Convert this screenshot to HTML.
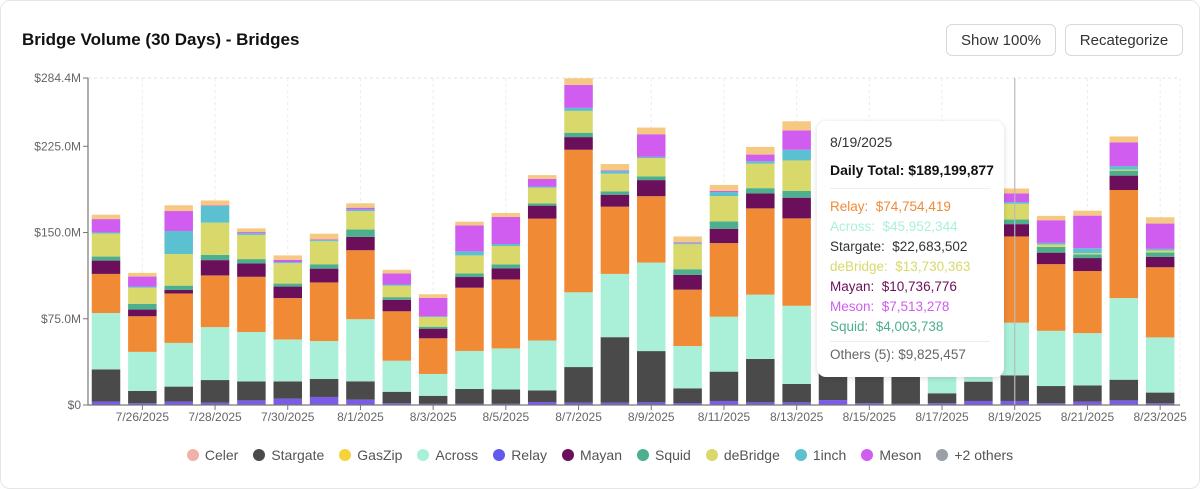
<!DOCTYPE html>
<html><head><meta charset="utf-8"><style>
body{margin:0;width:1200px;height:489px;background:#fff;font-family:"Liberation Sans",sans-serif;overflow:hidden}
.card{position:absolute;left:0;top:0;width:1198px;height:487px;border:1px solid #e6e6e6;border-radius:10px}
h1{position:absolute;left:22px;top:30px;margin:0;font-size:17px;font-weight:bold;color:#111}
.btn{position:absolute;top:24px;height:32px;border:1px solid #d9d9d9;border-radius:6px;background:#fff;font-size:15px;color:#333;display:flex;align-items:center;justify-content:center;box-sizing:border-box}
.legend{position:absolute;left:0;width:1200px;top:447px;display:flex;justify-content:center;gap:15px;font-size:14px;color:#555}
.li{display:flex;align-items:center;gap:6px}
.dot{width:12px;height:12px;border-radius:50%}
.tt{position:absolute;left:817px;top:121px;width:187px;height:256px;background:#fff;border-radius:9px;box-shadow:0 1px 6px rgba(0,0,0,0.15);font-size:13.5px;box-sizing:border-box;padding:0 12px}
.tt div{position:absolute;left:13px;white-space:nowrap}
.sep{height:1px;background:#eee;width:160px}
</style></head><body>
<div class="card"></div>
<h1>Bridge Volume (30 Days) - Bridges</h1>
<div class="btn" style="left:946px;width:110px">Show 100%</div>
<div class="btn" style="left:1065px;width:118px">Recategorize</div>
<svg id="chart" width="1200" height="489" style="position:absolute;left:0;top:0"></svg>
<div class="tt">
<div style="top:13px;color:#333;font-size:14px">8/19/2025</div>
<div style="top:41px;font-weight:bold;color:#111;font-size:14px">Daily Total: $189,199,877</div>
<div class="sep" style="top:67px"></div>
<div style="top:78px;color:#f08a35">Relay:&nbsp; $74,754,419</div>
<div style="top:98px;color:#aaf0d8">Across:&nbsp; $45,952,344</div>
<div style="top:118px;color:#333">Stargate:&nbsp; $22,683,502</div>
<div style="top:138px;color:#d8d96a">deBridge:&nbsp; $13,730,363</div>
<div style="top:158px;color:#6b0f5a">Mayan:&nbsp; $10,736,776</div>
<div style="top:178px;color:#d05cf0">Meson:&nbsp; $7,513,278</div>
<div style="top:198px;color:#4caf8e">Squid:&nbsp; $4,003,738</div>
<div class="sep" style="top:220px"></div>
<div style="top:226px;color:#666">Others (5): $9,825,457</div>
</div>
<div class="legend">
<div class="li"><span class="dot" style="background:#f0b2a8"></span>Celer</div>
<div class="li"><span class="dot" style="background:#4a4a4a"></span>Stargate</div>
<div class="li"><span class="dot" style="background:#f5d33a"></span>GasZip</div>
<div class="li"><span class="dot" style="background:#aaf0d8"></span>Across</div>
<div class="li"><span class="dot" style="background:#6259ee"></span>Relay</div>
<div class="li"><span class="dot" style="background:#6b0f5a"></span>Mayan</div>
<div class="li"><span class="dot" style="background:#4caf8e"></span>Squid</div>
<div class="li"><span class="dot" style="background:#d8d96a"></span>deBridge</div>
<div class="li"><span class="dot" style="background:#5bc0d0"></span>1inch</div>
<div class="li"><span class="dot" style="background:#d05cf0"></span>Meson</div>
<div class="li"><span class="dot" style="background:#9aa0a8"></span>+2 others</div>
</div>
<script>
const dates=["7/25/2025","7/26/2025","7/27/2025","7/28/2025","7/29/2025","7/30/2025","7/31/2025","8/1/2025","8/2/2025","8/3/2025","8/4/2025","8/5/2025","8/6/2025","8/7/2025","8/8/2025","8/9/2025","8/10/2025","8/11/2025","8/12/2025","8/13/2025","8/14/2025","8/15/2025","8/16/2025","8/17/2025","8/18/2025","8/19/2025","8/20/2025","8/21/2025","8/22/2025","8/23/2025"];
const baseVol=[3,1.5,3,2,4,5.5,7,4.6,1.5,1,1,1,2.6,2,2,2.3,1.7,3.5,2.3,2.3,4.3,1.5,1,1.5,3.5,3.5,1.5,3,4,1.5];
const stargate=[28,10.7,13,19.7,16.5,15,15.6,16,10,7,13,12.5,10,31,57,44.6,12.8,25.5,37.7,16,60,45,50,8.7,16.8,22.3,15,14,18,9.3];
const across=[49,34,38,46,43,36.5,33,54,27,19,33,35.7,43.5,65,55,77,36.8,47.8,56,68,50,45,40,50,45,45.8,48,45.5,71,48];
const relay=[34,31,43,45,48,36,51,60,43,31,55,60,106,124,58.5,57.7,49,64,75,76,50,55,45,60,70,75,58,54,94,61];
const mayan=[11.6,5.8,3,13.3,11.6,10,12,11.6,10,8.4,9.3,9.6,11.3,11,10.4,14,12.8,12.5,13,18,10,9,8,10,11,10.7,10,11.3,12.5,9];
const squid=[3.5,5,3.8,4.6,3.8,2.6,3.8,6.4,2.3,1.7,3.2,3.5,2,3.8,2.9,3.2,5,6.4,4.6,6,3,3,3,4,4,4,5,3.2,4.3,3.8];
const debridge=[20,14,27.5,28,21,17.7,20,16,10,8.4,15.6,16,13.6,19,15.4,16,21.7,22,21.4,26.4,15,12,12,15,14,13.7,2,1,1,1.7];
const oneinch=[1,1,20,14.5,1.5,1,1,1.5,1,0.6,3.5,1.7,1,2.6,2.3,1,1,3.5,2,9.3,2,2,2,2,2,1.5,1.5,4.3,3,1.5];
const meson=[11.6,8.7,17.4,0.5,1,2,0.6,1.5,9.6,16,22.6,23.5,6.7,20,0.6,19.7,0.6,1,5.8,16.8,8,6,6,8,8,7.5,19.7,28.4,20.6,22];
const others=[3.8,3.2,5,4.3,3.2,3.8,5,3.8,3.2,3.2,3.2,3.5,3.2,5.8,5.5,5.8,5.2,5.2,6.7,8,4,4,4,4,4,4.3,3.8,4.3,5.2,5.5];
const yTicks=[0,75,150,225,284.4];
const yTickLabels=["$0","$75.0M","$150.0M","$225.0M","$284.4M"];

const svg=document.getElementById('chart');
const NS='http://www.w3.org/2000/svg';
const X0=88,X1=1180,Y0=405,Y1=78,YMAX=284.4;
const step=36.35,bw=28.5;
function xc(i){return 106+step*i;}
function y(v){return Y0-(v/YMAX)*(Y0-Y1);}
function mk(tag,attrs){const e=document.createElementNS(NS,tag);for(const k in attrs)e.setAttribute(k,attrs[k]);svg.appendChild(e);return e;}

let g=mk('line',{x1:X0,x2:X1,y1:Y1,y2:Y1,stroke:'#e3e3e3','stroke-dasharray':'3,3'});


for(let i=1;i<dates.length;i+=2){
  const l=mk('line',{x1:xc(i),x2:xc(i),y1:Y1,y2:Y0,stroke:'#ececec','stroke-dasharray':'3,3'});
  
  
}
let r=mk('line',{x1:X1,x2:X1,y1:Y1,y2:Y0,stroke:'#ececec','stroke-dasharray':'3,3'});



const series=[baseVol,stargate,across,relay,mayan,squid,debridge,oneinch,meson,others];
const names=['base','stargate','across','relay','mayan','squid','debridge','1inch','meson','others'];
const colors=['#7a5ce8','#4a4a4a','#aaf0d8','#f08a35','#6b0f5a','#4caf8e','#d8d96a','#5bc0d0','#d05cf0','#f5c982'];
for(let i=0;i<dates.length;i++){
  let cum=0;
  for(let s=0;s<series.length;s++){
    const v=series[s][i];
    const yt=y(cum+v),yb=y(cum);
    const b=mk('rect',{x:xc(i)-bw/2,y:yt,width:bw,height:Math.max(0,yb-yt),fill:colors[s]});
    
    
    cum+=v;
  }
}
let ch=mk('line',{x1:xc(25),x2:xc(25),y1:Y1,y2:Y0,stroke:'#bbb','stroke-width':1.2});



let ya=mk('line',{x1:X0,x2:X0,y1:Y1,y2:Y0,stroke:'#777','stroke-width':1.2});


let xa=mk('line',{x1:X0,x2:X1,y1:Y0,y2:Y0,stroke:'#777','stroke-width':1.2});


for(let k=0;k<yTicks.length;k++){
  const yy=y(yTicks[k]);
  mk('line',{x1:X0-5,x2:X0,y1:yy,y2:yy,stroke:'#777'});
  const t=mk('text',{x:X0-7,y:yy+4,'text-anchor':'end','font-size':12,fill:'#666','font-family':'Liberation Sans, sans-serif'});
  t.textContent=yTickLabels[k];
  
  
}
for(let i=1;i<dates.length;i+=2){
  mk('line',{x1:xc(i),x2:xc(i),y1:Y0,y2:Y0+5,stroke:'#777'});
  const t=mk('text',{x:xc(i),y:Y0+16,'text-anchor':'middle','font-size':12,fill:'#666','font-family':'Liberation Sans, sans-serif'});
  t.textContent=dates[i];
  
  
}
</script>
</body></html>
